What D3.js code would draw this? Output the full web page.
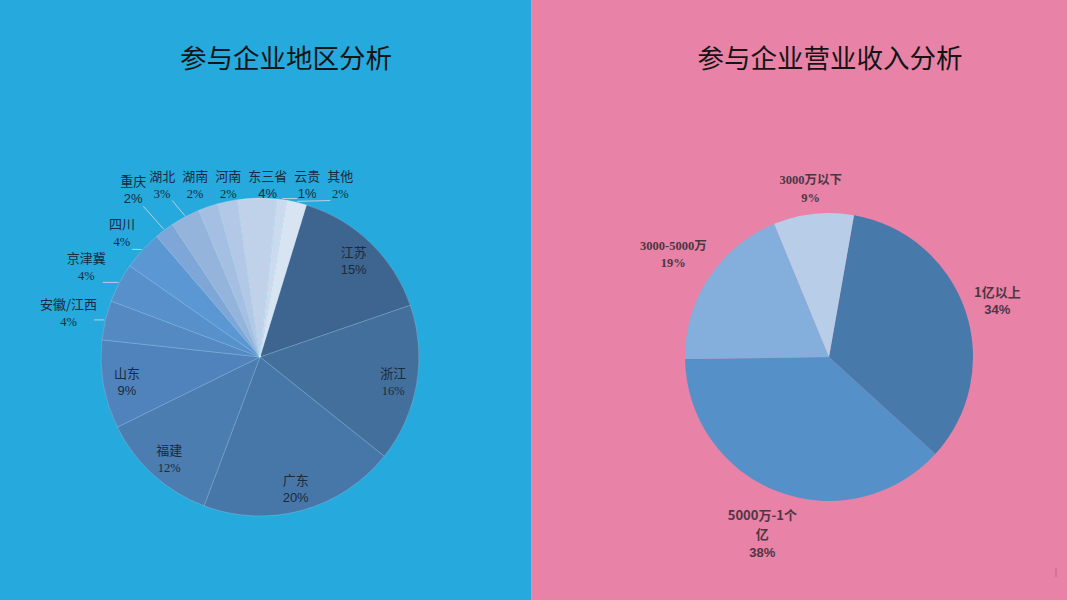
<!DOCTYPE html>
<html>
<head>
<meta charset="utf-8">
<script src="https://cdn.jsdelivr.net/npm/d3@7"></script>
<style>
  html, body { margin: 0; padding: 0; background: #fff; }
  svg { display: block; }
</style>
</head>
<body>
<script>
// left chart: region of participating companies
const regions = ["江苏", "浙江", "广东", "福建", "山东", "安徽/江西", "京津冀", "四川", "重庆", "湖北", "湖南", "河南", "东三省", "云贵", "其他"];
const regionShares = [15, 16, 20, 12, 9, 4, 4, 4, 2, 3, 2, 2, 4, 1, 2];
const regionColors = ["#3d6590", "#436f9c", "#4777a8", "#4b7db0", "#5083bb", "#5489c2", "#5790cb", "#5a97d3",
                      "#7ea6d6", "#94b4dc", "#a4bfe1", "#b2c8e6", "#c0d2ea", "#cbdaef", "#d9e4f3"];
const regionsInside = ["江苏", "浙江", "广东", "福建", "山东"];
const regionsSerifPct = ["浙江", "福建", "安徽/江西", "京津冀", "四川", "湖北", "湖南", "河南", "其他"];

// right chart: operating revenue
const revenueBands = ["1亿以上", "5000万-1个亿", "3000-5000万", "3000万以下"];
const revenueShares = [34, 38, 19, 9];
const revenueColors = ["#4779aa", "#5591c8", "#84aedc", "#b8cde8"];
const revenueSerif = ["3000-5000万", "3000万以下"];

const W = 1067, H = 600, split = 531;
const deg = Math.PI / 180;
const CJK = "'Noto Sans CJK SC', 'Noto Sans', sans-serif";
const SANS = "'Liberation Sans', 'Noto Sans CJK SC', sans-serif";
const SERIF = "'Liberation Serif', 'Noto Sans CJK SC', serif";

const svg = d3.select("body").append("svg")
  .attr("width", W)
  .attr("height", H);

svg.append("rect").attr("x", 0).attr("y", 0).attr("width", split).attr("height", H).attr("fill", "#26a9dc");
svg.append("rect").attr("x", split).attr("y", 0).attr("width", W - split).attr("height", H).attr("fill", "#e882a6");
svg.append("rect").attr("x", split).attr("y", 0).attr("width", 1).attr("height", H).attr("fill", "#d891b4");
svg.append("rect").attr("x", 1055).attr("y", 568).attr("width", 2).attr("height", 9).attr("fill", "#c9708f").attr("opacity", 0.7);

var title = function(x, txt) {
  svg.append("text")
    .attr("x", x).attr("y", 68)
    .attr("text-anchor", "middle")
    .style("font-family", CJK)
    .style("font-size", "26.5px")
    .attr("fill", "#141414")
    .text(txt);
};
title(286, "参与企业地区分析");
title(830, "参与企业营业收入分析");

var overlap = function(a, b, pad) {
  return !(a.x1 + pad < b.x0 || b.x1 + pad < a.x0 || a.y1 + pad < b.y0 || b.y1 + pad < a.y0);
};

var drawPie = function(cfg) {
  var data = cfg.names.map(function(n, i) { return { name: n, value: cfg.values[i] }; });
  var color = d3.scaleOrdinal().domain(cfg.names).range(cfg.colors);
  var pie = d3.pie().sort(null).value(function(d) { return d.value; })
    .startAngle(cfg.start * deg).endAngle(cfg.start * deg + 2 * Math.PI);
  var arc = d3.arc().innerRadius(0).outerRadius(cfg.r);
  var arcs = pie(data);

  var g = svg.append("g").attr("transform", "translate(" + cfg.cx + "," + cfg.cy + ")");
  g.selectAll("path.slice")
    .data(arcs)
    .enter().append("path").attr("class", "slice")
    .attr("d", arc)
    .attr("fill", function(d) { return color(d.data.name); })
    .attr("stroke", cfg.stroke)
    .attr("stroke-opacity", cfg.strokeOpacity)
    .attr("stroke-width", 0.7);

  var lineG = g.append("g");
  var labels = [];

  arcs.forEach(function(d) {
    var lg = g.append("g");
    var serif = cfg.serif.indexOf(d.data.name) >= 0;
    var nameFont = serif && cfg.serifName ? SERIF : CJK;
    var pctFont = serif ? SERIF : SANS;
    var sz = function(isSerif) { return (isSerif ? cfg.fs - 0.5 : cfg.fs) + "px"; };

    // wrap name if needed
    var lines = [];
    var probe = lg.append("text").style("font-size", sz(serif && cfg.serifName))
      .style("font-weight", cfg.weight).style("font-family", nameFont);
    var cur = "";
    Array.from(d.data.name).forEach(function(ch) {
      probe.text(cur + ch);
      if (cur && probe.node().getComputedTextLength() > cfg.wrap) { lines.push(cur); cur = ch; }
      else cur += ch;
    });
    lines.push(cur);
    probe.remove();

    var y = 0;
    lines.forEach(function(t, i) {
      if (i > 0) y += cfg.lhName;
      lg.append("text")
        .attr("x", 0).attr("y", y)
        .attr("text-anchor", "middle")
        .style("font-size", sz(serif && cfg.serifName))
        .style("font-weight", cfg.weight)
        .style("font-family", nameFont)
        .attr("fill", cfg.textColor)
        .text(t);
    });
    lg.append("text")
      .attr("x", 0).attr("y", y + cfg.lh)
      .attr("text-anchor", "middle")
      .style("font-size", sz(serif))
      .style("font-weight", cfg.weight)
      .style("font-family", pctFont)
      .attr("fill", cfg.textColor)
      .text(d.data.value + "%");

    var bb = lg.node().getBBox();
    var mid = (d.startAngle + d.endAngle) / 2;
    var lab = { g: lg, bb: bb, w: bb.width, h: bb.height, mid: mid, ux: Math.sin(mid), uy: -Math.cos(mid),
                inside: cfg.inside.indexOf(d.data.name) >= 0 };
    if (lab.inside) {
      lab.x = lab.ux * cfg.r * 0.85;
      lab.y = lab.uy * cfg.r * 0.85;
    } else {
      lab.dist = cfg.r + cfg.gap + lab.w / 2 * Math.abs(lab.ux) + lab.h / 2 * Math.abs(lab.uy);
      lab.x = lab.ux * lab.dist;
      lab.y = lab.uy * lab.dist;
    }
    labels.push(lab);
  });

  var box = function(l) { return { x0: l.x - l.w / 2, x1: l.x + l.w / 2, y0: l.y - l.h / 2, y1: l.y + l.h / 2 }; };
  var placed = labels.filter(function(l) { return l.inside; });

  // labels near the top sit in one row and are spread sideways
  if (cfg.row) {
    var row = labels.filter(function(l) { return !l.inside && -l.uy > 0.85; })
      .sort(function(a, b) { return a.x - b.x; });
    var shift = 0;
    row.forEach(function(l, i) {
      l.y = -cfg.r - 15;
      if (i > 0) {
        var p = row[i - 1];
        var nx = Math.max(l.x, p.x + (p.w + l.w) / 2 + 7);
        shift += nx - l.x;
        l.x = nx;
      }
    });
    shift = row.length ? shift / row.length / 2 : 0;
    row.forEach(function(l) { l.x -= shift; l.row = true; placed.push(l); });
  }

  // remaining outer labels pushed outward until free
  labels.filter(function(l) { return !l.inside && !l.row; })
    .sort(function(a, b) { return Math.abs(b.uy) - Math.abs(a.uy); })
    .forEach(function(l) {
      var n = 0;
      while (placed.some(function(p) { return overlap(box(l), box(p), 2); }) && n < 60) {
        l.dist += 2;
        l.x = l.ux * l.dist;
        l.y = l.uy * l.dist;
        n++;
      }
      placed.push(l);
    });

  labels.forEach(function(l) {
    var b = l.bb;
    l.g.attr("transform", "translate(" + (l.x - (b.x + b.width / 2)) + "," + (l.y - (b.y + b.height / 2)) + ")");
    if (l.inside || !cfg.leader) return;
    var px = l.ux * (cfg.r + 1), py = l.uy * (cfg.r + 1);
    var bx = box(l);
    var qx = Math.max(bx.x0 + 3, Math.min(bx.x1 - 3, px));
    var qy = Math.max(bx.y0, Math.min(bx.y1, py));
    if (Math.hypot(qx - px, qy - py) > 6.5) {
      lineG.append("line")
        .attr("x1", qx).attr("y1", qy)
        .attr("x2", px).attr("y2", py)
        .attr("stroke", cfg.leader)
        .attr("stroke-width", 1);
    }
  });
};

drawPie({
  cx: 260, cy: 357, r: 159, start: 17,
  names: regions, values: regionShares, colors: regionColors,
  inside: regionsInside, serif: regionsSerifPct, serifName: false,
  fs: 13, lh: 17, lhName: 19, weight: "normal", textColor: "#1b2a3c",
  gap: 6, wrap: 200, row: true,
  stroke: "#ffffff", strokeOpacity: 0.25, leader: "#b9cfe0"
});

drawPie({
  cx: 829, cy: 357, r: 144, start: 10,
  names: revenueBands, values: revenueShares, colors: revenueColors,
  inside: [], serif: revenueSerif, serifName: true,
  fs: 13, lh: 17.5, lhName: 19, weight: "bold", textColor: "#4d3744",
  gap: 6, wrap: 72, row: false,
  stroke: "none", strokeOpacity: 0, leader: null
});
</script>
</body>
</html>
